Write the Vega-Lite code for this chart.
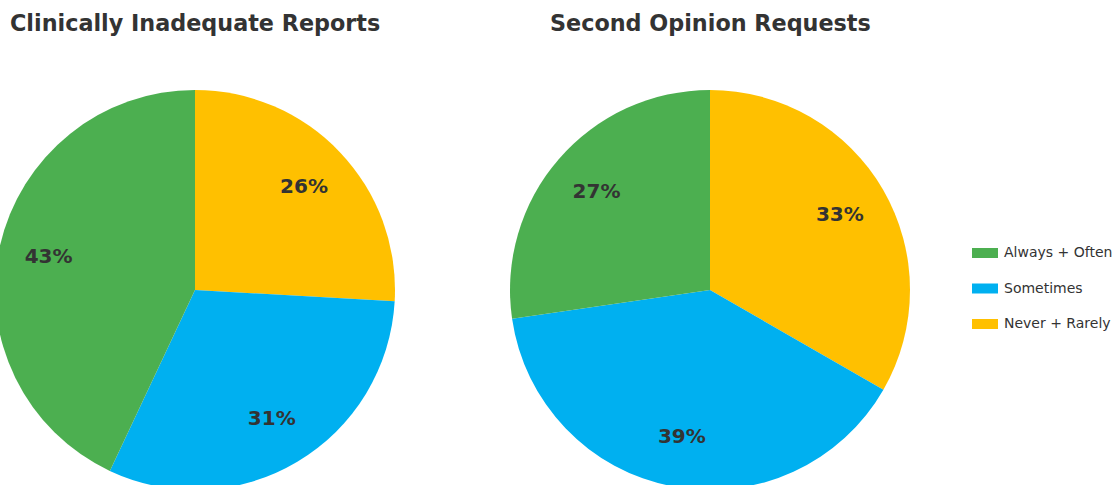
{
  "$schema": "https://vega.github.io/schema/vega-lite/v6.json",
  "autosize": {"type": "pad"},
  "padding": {"left": -5, "top": 12, "right": 0, "bottom": 0},
  "bounds": "flush",
  "spacing": 160,
  "background": "white",
  "config": {
    "view": {"stroke": null},
    "font": "DejaVu Sans",
    "title": {"font": "DejaVu Sans", "fontSize": 22.3, "fontWeight": "bold", "color": "#333333", "anchor": "start", "offset": 55, "frame": "group"},
    "legend": {
      "title": null,
      "orient": "none",
      "legendX": 975,
      "legendY": 153,
      "symbolType": "M-1.3,-0.5 H1.3 V0.5 H-1.3 Z",
      "symbolSize": 400,
      "symbolStrokeWidth": 0,
      "labelFont": "DejaVu Sans",
      "labelFontSize": 14,
      "labelColor": "#333333",
      "rowPadding": 18.5,
      "labelOffset": 9
    }
  },
  "datasets": {
    "a": [
      {"cat": "Never + Rarely", "ord": 1, "v": 25.9, "lbl": "26%"},
      {"cat": "Sometimes", "ord": 2, "v": 31.1, "lbl": "31%"},
      {"cat": "Always + Often", "ord": 3, "v": 43.0, "lbl": "43%"}
    ],
    "b": [
      {"cat": "Never + Rarely", "ord": 1, "v": 33.3, "lbl": "33%"},
      {"cat": "Sometimes", "ord": 2, "v": 39.4, "lbl": "39%"},
      {"cat": "Always + Often", "ord": 3, "v": 27.3, "lbl": "27%"}
    ]
  },
  "hconcat": [
    {
      "title": {"text": "Clinically Inadequate Reports", "dx": 10},
      "width": 390,
      "height": 400,
      "data": {"name": "a"},
      "encoding": {
        "theta": {"field": "v", "type": "quantitative", "stack": true},
        "order": {"field": "ord", "type": "quantitative"}
      },
      "layer": [
        {
          "mark": {"type": "arc", "outerRadius": 200},
          "encoding": {
            "color": {
              "field": "cat", "type": "nominal",
              "scale": {"domain": ["Always + Often", "Sometimes", "Never + Rarely"], "range": ["#4CAF50", "#00B0F0", "#FFC000"]}
            }
          }
        },
        {
          "mark": {"type": "text", "radius": 150, "fontSize": 20, "fontWeight": "bold", "color": "#333333"},
          "encoding": {"text": {"field": "lbl", "type": "nominal"}}
        }
      ]
    },
    {
      "title": "Second Opinion Requests",
      "width": 320,
      "height": 400,
      "data": {"name": "b"},
      "encoding": {
        "theta": {"field": "v", "type": "quantitative", "stack": true},
        "order": {"field": "ord", "type": "quantitative"}
      },
      "layer": [
        {
          "mark": {"type": "arc", "outerRadius": 200},
          "encoding": {
            "color": {
              "field": "cat", "type": "nominal",
              "scale": {"domain": ["Always + Often", "Sometimes", "Never + Rarely"], "range": ["#4CAF50", "#00B0F0", "#FFC000"]}
            }
          }
        },
        {
          "mark": {"type": "text", "radius": 150, "fontSize": 20, "fontWeight": "bold", "color": "#333333"},
          "encoding": {"text": {"field": "lbl", "type": "nominal"}}
        }
      ]
    }
  ]
}
